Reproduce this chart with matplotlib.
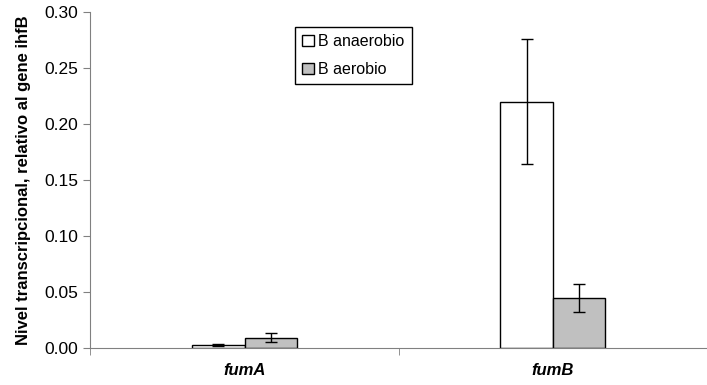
import matplotlib.pyplot as plt
import numpy as np

plt.rcParams['font.family'] = ['Liberation Sans', 'DejaVu Sans']

genes = ['fumA', 'fumB']
anaerobio = [0.0025, 0.220]
anaerobio_err = [0.0010, 0.056]
aerobio = [0.0093, 0.0445]
aerobio_err = [0.0040, 0.0125]

x = np.arange(len(genes))
w = 0.17

fig = plt.figure(figsize=(7.07, 3.85), dpi=100)
ax = fig.add_axes([0.128, 0.096, 0.872, 0.873])

ax.bar(x - w / 2, anaerobio, w, color='white', edgecolor='black', linewidth=1,
       yerr=anaerobio_err, error_kw=dict(ecolor='black', elinewidth=1, capsize=4, capthick=1),
       label='B anaerobio')
ax.bar(x + w / 2, aerobio, w, color='#c0c0c0', edgecolor='black', linewidth=1,
       yerr=aerobio_err, error_kw=dict(ecolor='black', elinewidth=1, capsize=4, capthick=1),
       label='B aerobio')

ax.set_xlim(-0.5, 1.5)
ax.set_ylim(0, 0.30)
ax.set_yticks(np.arange(0, 0.31, 0.05))
ax.set_yticklabels([f'{v:.2f}' for v in np.arange(0, 0.31, 0.05)], fontsize=12.5)

ax.set_xticks(x)
ax.set_xticklabels(genes, fontsize=12, fontweight='bold', fontstyle='italic')
ax.tick_params(axis='x', which='major', length=0, pad=11)
ax.set_xticks([-0.5, 0.5, 1.5], minor=True)
ax.tick_params(axis='x', which='minor', length=5, color='#808080')
ax.tick_params(axis='y', length=5, color='#808080', pad=4)

for s in ['top', 'right']:
    ax.spines[s].set_visible(False)
for s in ['left', 'bottom']:
    ax.spines[s].set_color('#808080')

ax.set_ylabel('Nivel transcripcional, relativo al gene ihfB', fontsize=12, fontweight='bold', labelpad=9)

leg = ax.legend(loc='upper left', bbox_to_anchor=(0.332, 0.955), fontsize=11.5,
                frameon=True, fancybox=False, edgecolor='black', framealpha=1,
                handlelength=0.7, handleheight=0.7, handletextpad=0.3,
                borderpad=0.45, labelspacing=0.8, borderaxespad=0)
leg.get_frame().set_linewidth(1)

fig.savefig('out.png', dpi=100)
